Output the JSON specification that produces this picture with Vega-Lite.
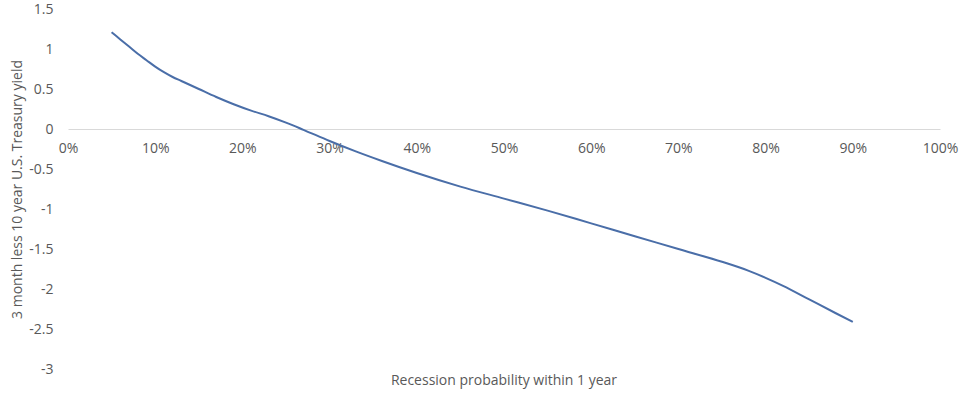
{
  "$schema": "https://vega.github.io/schema/vega-lite/v6.json",
  "autosize": "none",
  "padding": {"left": 68, "top": 9, "right": 20, "bottom": 25},
  "width": 872,
  "height": 360,
  "background": "white",
  "title": {"text": "Recession probability within 1 year", "orient": "bottom", "anchor": "middle", "fontSize": 14, "fontWeight": "normal", "font": "Open Sans", "color": "#595959", "offset": -2},
  "data": {"values": [
    {"p": 0.05, "y": 1.21},
    {"p": 0.06, "y": 1.12},
    {"p": 0.07, "y": 1.03},
    {"p": 0.08, "y": 0.94},
    {"p": 0.09, "y": 0.86},
    {"p": 0.10, "y": 0.78},
    {"p": 0.11, "y": 0.71},
    {"p": 0.12, "y": 0.65},
    {"p": 0.13, "y": 0.60},
    {"p": 0.15, "y": 0.50},
    {"p": 0.17, "y": 0.40},
    {"p": 0.19, "y": 0.31},
    {"p": 0.21, "y": 0.23},
    {"p": 0.23, "y": 0.16},
    {"p": 0.25, "y": 0.08},
    {"p": 0.27, "y": -0.01},
    {"p": 0.30, "y": -0.15},
    {"p": 0.33, "y": -0.28},
    {"p": 0.36, "y": -0.40},
    {"p": 0.40, "y": -0.55},
    {"p": 0.45, "y": -0.72},
    {"p": 0.50, "y": -0.87},
    {"p": 0.55, "y": -1.02},
    {"p": 0.60, "y": -1.18},
    {"p": 0.65, "y": -1.34},
    {"p": 0.70, "y": -1.50},
    {"p": 0.75, "y": -1.66},
    {"p": 0.78, "y": -1.77},
    {"p": 0.80, "y": -1.86},
    {"p": 0.82, "y": -1.96},
    {"p": 0.85, "y": -2.13},
    {"p": 0.88, "y": -2.30},
    {"p": 0.90, "y": -2.41}
  ]},
  "mark": {"type": "line", "color": "#4a6ea8", "strokeWidth": 2, "interpolate": "monotone"},
  "encoding": {
    "x": {"field": "p", "type": "quantitative", "scale": {"domain": [0, 1], "nice": false},
      "axis": {"title": null, "values": [0,0.1,0.2,0.3,0.4,0.5,0.6,0.7,0.8,0.9,1], "format": ".0%", "offset": -240, "ticks": false, "grid": false, "domainColor": "#d9d9d9", "domainWidth": 1, "labelPadding": 12, "labelFont": "Open Sans", "labelFontSize": 14, "labelColor": "#595959", "labelFlush": false}},
    "y": {"field": "y", "type": "quantitative", "scale": {"domain": [-3, 1.5], "nice": false, "zero": false},
      "axis": {"title": "3 month less 10 year U.S. Treasury yield", "values": [-3,-2.5,-2,-1.5,-1,-0.5,0,0.5,1,1.5], "labelExpr": "'' + datum.value", "ticks": false, "grid": false, "domain": false, "labelPadding": 15, "labelFont": "Open Sans", "labelFontSize": 14, "labelColor": "#595959", "titleFont": "Open Sans", "titleFontSize": 14, "titleFontWeight": "normal", "titleColor": "#595959", "titlePadding": 4}}
  },
  "config": {"view": {"stroke": null}}
}
